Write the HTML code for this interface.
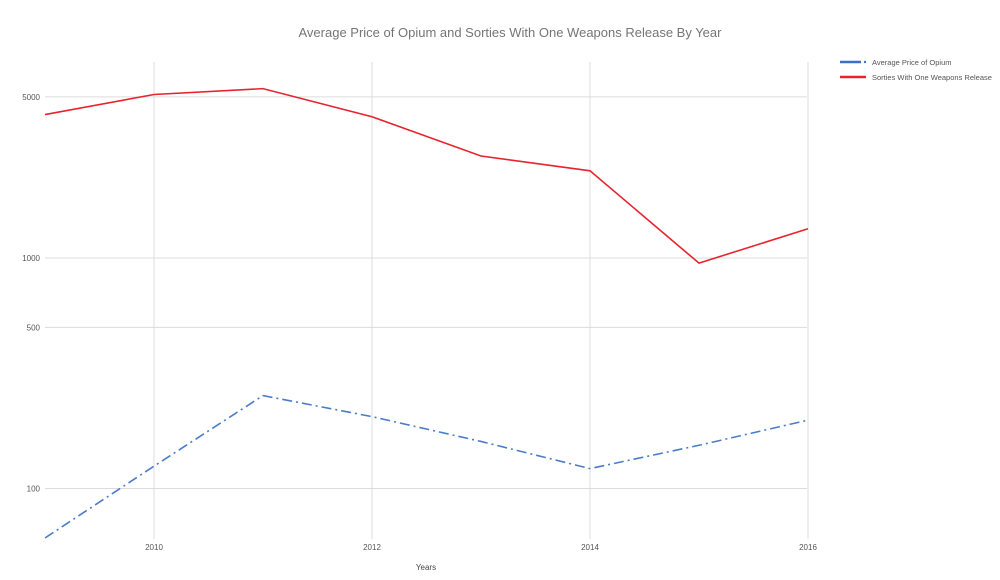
<!DOCTYPE html>
<html><head><meta charset="utf-8"><style>
body{margin:0;background:#fff;}
svg{display:block;font-family:"Liberation Sans",Arial,sans-serif;}
</style></head><body>
<svg id="chart" width="1000" height="580">
<text x="510" y="37" text-anchor="middle" font-size="13" fill="#757575">Average Price of Opium and Sorties With One Weapons Release By Year</text>
<g id="grid"></g>
<g id="series"></g>
<text x="426" y="570" text-anchor="middle" font-size="8" fill="#444">Years</text>
<g>
<g>
<line x1="840" y1="62" x2="861" y2="62" stroke="#3a6fc4" stroke-width="2.5"/>
<circle cx="865" cy="62" r="1.2" fill="#3a6fc4"/>
<text x="872" y="65" font-size="7.5" fill="#555">Average Price of Opium</text>
</g>
<g>
<line x1="840" y1="77" x2="866" y2="77" stroke="#e8232d" stroke-width="2.5"/>
<text x="872" y="80" font-size="7.5" fill="#555">Sorties With One Weapons Release</text>
</g>
</g>
</svg>
<script>
const years=[2009,2010,2011,2012,2013,2014,2015,2016];
const opium=[61,125,253,205,160,122,154,198];
const sorties=[4190,5120,5430,4100,2770,2390,950,1340];
const yTicks=[100,500,1000,5000];
const xTicks=[2010,2012,2014,2016];
const NS="http://www.w3.org/2000/svg";
const x=v=>45+(v-2009)*109;
const y=v=>258-(Math.log10(v)-3)*230.5;
const grid=document.getElementById('grid'),ser=document.getElementById('series');
function mk(tag,at,parent){const e=document.createElementNS(NS,tag);for(const k in at)e.setAttribute(k,at[k]);parent.appendChild(e);return e;}
yTicks.forEach(t=>{
 const l=mk('line',{x1:45,x2:807,y1:y(t),y2:y(t),stroke:'#dcdcdc','stroke-width':1},grid);
 
 
 const tx=mk('text',{x:40,y:y(t)+3,'text-anchor':'end','font-size':8,fill:'#555'},grid);
 tx.textContent=t;
 
 
});
xTicks.forEach(t=>{
 const l=mk('line',{x1:x(t),x2:x(t),y1:62,y2:539,stroke:'#dcdcdc','stroke-width':1},grid);
 
 
 const tx=mk('text',{x:x(t),y:550,'text-anchor':'middle','font-size':8,fill:'#555'},grid);
 tx.textContent=t;
 
 
});
const p1=mk('polyline',{points:years.map((d,i)=>x(d)+','+y(sorties[i])).join(' '),fill:'none',stroke:'#e8232d','stroke-width':1.6},ser);


const p2=mk('polyline',{points:years.map((d,i)=>x(d)+','+y(opium[i])).join(' '),fill:'none',stroke:'#4a7cc9','stroke-width':1.6,'stroke-dasharray':'10 4 2 4'},ser);


</script>
</body></html>
